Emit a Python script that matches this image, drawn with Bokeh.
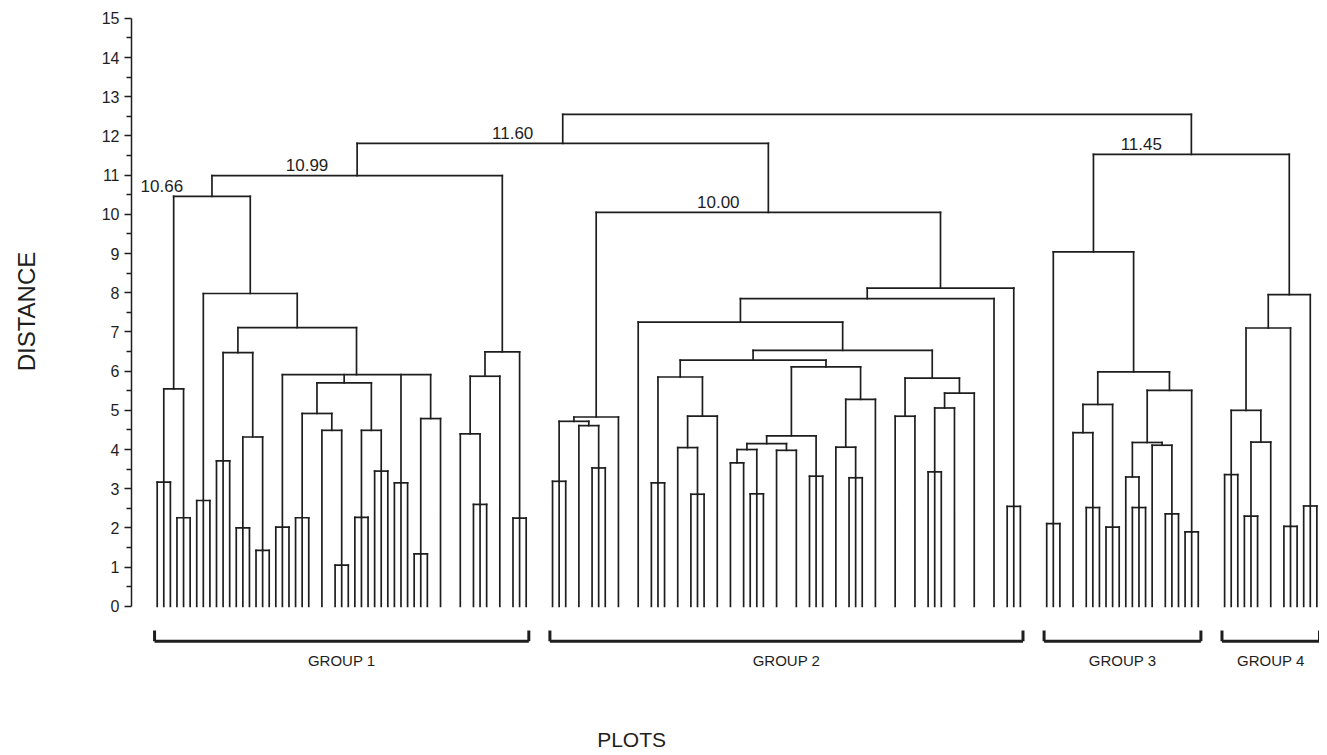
from bokeh.plotting import figure
from bokeh.layouts import column
from bokeh.models import ColumnDataSource, FixedTicker
from bokeh.embed import file_html
from bokeh.resources import INLINE
from bokeh.core.properties import value

# ---------------- data ----------------
# Leaves are ordinal plot slots along the x axis (unused slots leave small gaps).
# Node = (distance, [children], optional label); a child is a leaf slot or a node.
group1_tree = (10.99, [
    (10.46, [
        (5.55, [(3.17, [0, 1, 2]), (2.26, [3, 4, 5])]),
        (7.98, [
            (2.70, [6, 7, 8]),
            (7.11, [
                (6.47, [(3.71, [9, 10, 11]),
                        (4.32, [(2.00, [12, 13, 14]), (1.43, [15, 16, 17])])]),
                (5.91, [
                    (2.02, [18, 19, 20]),
                    (5.70, [
                        (4.92, [(2.26, [21, 22, 23]), (4.49, [25, (1.05, [27, 28, 29])])]),
                        (4.49, [(2.27, [30, 31, 32]), (3.45, [33, 34, 35])]),
                    ]),
                    (3.15, [36, 37, 38]),
                    (4.79, [(1.34, [39, 40, 41]), 43]),
                ]),
            ]),
        ]),
    ], "10.66"),
    (6.49, [(5.87, [(4.40, [46, (2.60, [48, 49, 50])]), 52]), (2.25, [54, 55, 56])]),
], "10.99")

group2_tree = (10.05, [
    (4.83, [(4.72, [(3.19, [60, 61, 62]), (4.61, [64, (3.53, [66, 67, 68])])]), 70]),
    (8.12, [
        (7.85, [
            (7.25, [73,
                (6.53, [
                    (6.28, [
                        (5.85, [(3.15, [75, 76, 77]),
                                (4.85, [(4.05, [79, (2.86, [81, 82, 83])]), 85])]),
                        (6.11, [
                            (4.35, [(4.15, [(4.00, [(3.66, [87, 89]), (2.87, [90, 91, 92])]),
                                            (3.98, [94, 97])]),
                                    (3.32, [99, 100, 101])]),
                            (5.28, [(4.06, [103, (3.28, [105, 106, 107])]), 109]),
                        ]),
                    ]),
                    (5.82, [(4.85, [112, 115]),
                            (5.44, [(5.06, [(3.43, [117, 118, 119]), 121]), 124])]),
                ]),
            ]),
            127]),
        (2.55, [129, 130, 131]),
    ]),
], "10.00")

group3_tree = (9.04, [
    (2.11, [135, 136, 137]),
    (5.98, [
        (5.15, [(4.43, [139, (2.52, [141, 142, 143])]), (2.02, [144, 145, 146])]),
        (5.51, [(4.18, [(3.30, [147, (2.52, [148, 149, 150])]),
                        (4.11, [151, (2.36, [153, 154, 155])])]),
                (1.90, [156, 157, 158])]),
    ]),
])

group4_tree = (7.95, [
    (7.10, [(5.00, [(3.36, [162, 163, 164]), (4.19, [(2.30, [165, 166, 167]), 169])]),
            (2.04, [171, 172, 173])]),
    (2.56, [174, 175, 176]),
])

upper_left_node = (11.81, [group1_tree, group2_tree], "11.60")
upper_right_node = (11.53, [group3_tree, group4_tree], "11.45")
root_node = (12.55, [upper_left_node, upper_right_node])

group_names = ["GROUP 1", "GROUP 2", "GROUP 3", "GROUP 4"]
group_trees = [group1_tree, group2_tree, group3_tree, group4_tree]
y_ticks = list(range(0, 16))

# ---------------- geometry from the tree ----------------
seg = dict(x0=[], y0=[], x1=[], y1=[])
labels = dict(x=[], y=[], text=[])


def leaves_of(node):
    if isinstance(node, int):
        return [node]
    out = []
    for k in node[1]:
        out += leaves_of(k)
    return out


def walk(node):
    if isinstance(node, int):
        return float(node), 0.0
    h, kids = node[0], node[1]
    pts = [walk(k) for k in kids]
    xs = [p[0] for p in pts]
    for cx, ch in pts:
        seg["x0"].append(cx); seg["y0"].append(ch)
        seg["x1"].append(cx); seg["y1"].append(h)
    seg["x0"].append(min(xs)); seg["y0"].append(h)
    seg["x1"].append(max(xs)); seg["y1"].append(h)
    x = (min(xs) + max(xs)) / 2.0
    if len(node) > 2:
        labels["x"].append(x - 7.6)
        labels["y"].append(h + 0.12)
        labels["text"].append(node[2])
    return x, h


walk(root_node)

FONT = "Liberation Sans"
INK = "#1e1e1e"
PX_PER_UNIT = 39.2
TOP_FRAME = 602            # pixel height of the dendrogram frame
TOP_PAD, TOP_BOTTOM = 10, 18
BOT_H = 122
Y_TOP = 15.2
Y_SPLIT = Y_TOP - TOP_FRAME / PX_PER_UNIT
Y_BOT_TOP = Y_SPLIT - TOP_BOTTOM / PX_PER_UNIT

# ---------------- dendrogram panel ----------------
p = figure(width=1319, height=TOP_PAD + TOP_FRAME + TOP_BOTTOM, output_backend="svg",
           toolbar_location=None, x_range=(-3.9, 176.4), y_range=(Y_SPLIT, Y_TOP),
           x_axis_location=None, min_border_left=131, min_border_right=0,
           min_border_top=TOP_PAD, min_border_bottom=TOP_BOTTOM)
p.outline_line_color = None
p.xgrid.visible = False
p.ygrid.visible = False

p.segment(x0="x0", y0="y0", x1="x1", y1="y1", source=ColumnDataSource(seg),
          line_color=INK, line_width=1.7, line_cap="square")

p.text(x="x", y="y", text="text", source=ColumnDataSource(labels),
       text_font=value(FONT), text_font_size="17px", text_color=INK,
       text_align="center", text_baseline="bottom")

ax = p.yaxis[0]
ax.ticker = FixedTicker(ticks=y_ticks, minor_ticks=[t + 0.5 for t in y_ticks[:-1]])
ax.bounds = (0, 15)
ax.axis_line_color = INK
ax.axis_line_width = 1.5
ax.major_tick_line_color = INK
ax.minor_tick_line_color = INK
ax.major_tick_line_width = 1.5
ax.minor_tick_line_width = 1.5
ax.major_tick_out = 7
ax.major_tick_in = 0
ax.minor_tick_out = 5
ax.minor_tick_in = 0
ax.major_label_standoff = 5
ax.major_label_text_font = FONT
ax.major_label_text_font_size = "16px"
ax.major_label_text_color = INK
ax.axis_label = "DISTANCE"
ax.axis_label_text_font = FONT
ax.axis_label_text_font_size = "24px"
ax.axis_label_text_font_style = "normal"
ax.axis_label_text_color = INK
ax.axis_label_standoff = 59

# ---------------- group brackets panel ----------------
q = figure(width=1319, height=BOT_H, output_backend="svg", toolbar_location=None,
           x_range=p.x_range, y_range=(Y_BOT_TOP - BOT_H / PX_PER_UNIT, Y_BOT_TOP),
           x_axis_location=None, y_axis_location=None,
           min_border_left=131, min_border_right=0, min_border_top=0, min_border_bottom=0)
q.outline_line_color = None
q.xgrid.visible = False
q.ygrid.visible = False

br = dict(x0=[], x1=[], xm=[], name=[])
for name, tree in zip(group_names, group_trees):
    lv = leaves_of(tree)
    br["x0"].append(min(lv) - 0.4)
    br["x1"].append(max(lv) + 0.4)
    br["xm"].append((min(lv) + max(lv)) / 2.0)
    br["name"].append(name)
bsrc = ColumnDataSource(br)
q.segment(x0="x0", y0=-0.89, x1="x1", y1=-0.89, source=bsrc, line_color=INK, line_width=3)
q.segment(x0="x0", y0=-0.89, x1="x0", y1=-0.56, source=bsrc, line_color=INK, line_width=3)
q.segment(x0="x1", y0=-0.89, x1="x1", y1=-0.56, source=bsrc, line_color=INK, line_width=3)
q.text(x="xm", y=-1.38, text="name", source=bsrc, text_font=value(FONT),
       text_font_size="15px", text_color=INK, text_align="center", text_baseline="middle")

all_leaves = leaves_of(root_node)
q.text(x=[(min(all_leaves) + max(all_leaves)) / 2.0 - 16.0], y=[-3.4], text=["PLOTS"],
       text_font=value(FONT), text_font_size="21px", text_color=INK,
       text_align="center", text_baseline="middle")

open("out.html", "w").write(file_html(column(p, q, spacing=0), INLINE))
